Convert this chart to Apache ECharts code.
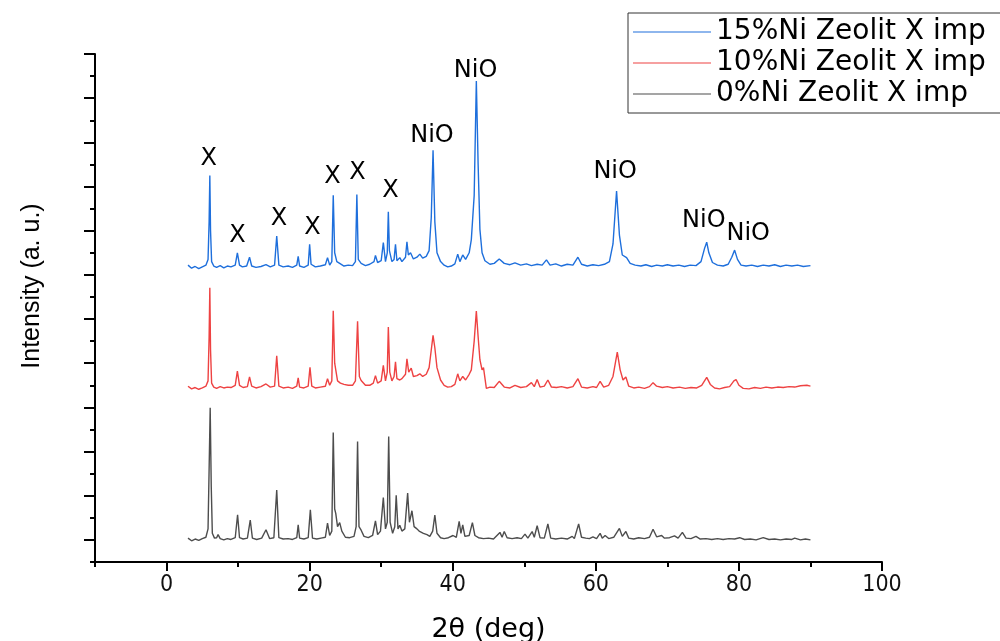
<!DOCTYPE html>
<html>
<head>
<meta charset="utf-8">
<title>XRD Ni Zeolit X</title>
<script src="https://cdn.jsdelivr.net/npm/echarts@6/dist/echarts.min.js"></script>
<style>
  html, body { margin: 0; padding: 0; background: #fff; }
  #main { width: 1000px; height: 641px; }
</style>
</head>
<body>
<div id="main"></div>
<script>
// series names (legend order)
const seriesNames = ['15%Ni Zeolit X imp', '10%Ni Zeolit X imp', '0%Ni Zeolit X imp']
const seriesColors = ['#1e6fdc', '#ee4242', '#4d4d4d']

// [2theta, intensity (offset a.u.)]
const ni15 = [
  [3.0,6.22],[3.5,6.15],[4.0,6.19],[4.5,6.14],[5.0,6.18],[5.5,6.22],[5.8,6.35],[5.95,7.2],[6.05,8.25],[6.15,7.0],
  [6.3,6.3],[6.6,6.2],[7.0,6.17],[7.5,6.21],[8.0,6.16],[8.5,6.2],[9.0,6.18],[9.6,6.22],[9.9,6.5],[10.2,6.22],
  [10.6,6.18],[11.2,6.2],[11.6,6.4],[11.9,6.2],[12.5,6.17],[13.2,6.19],[13.9,6.23],[14.5,6.18],[15.1,6.22],[15.4,6.88],
  [15.7,6.22],[16.3,6.18],[17.0,6.2],[17.6,6.17],[18.2,6.22],[18.4,6.42],[18.6,6.2],[19.2,6.17],[19.8,6.22],[20.0,6.69],
  [20.2,6.24],[20.8,6.18],[21.5,6.2],[22.2,6.23],[22.5,6.39],[22.8,6.22],[23.1,6.3],[23.3,7.8],[23.5,6.5],[23.8,6.3],
  [24.2,6.26],[24.8,6.2],[25.4,6.22],[26.0,6.21],[26.4,6.3],[26.6,7.82],[26.8,6.35],[27.2,6.26],[27.8,6.21],[28.4,6.24],
  [29.0,6.3],[29.2,6.44],[29.5,6.28],[30.0,6.32],[30.3,6.73],[30.6,6.3],[30.85,6.5],[31.0,7.43],[31.15,6.55],[31.5,6.3],
  [31.8,6.35],[32.0,6.69],[32.2,6.32],[32.6,6.39],[32.9,6.3],[33.4,6.4],[33.6,6.75],[33.8,6.45],[34.1,6.5],[34.5,6.36],
  [35.0,6.4],[35.4,6.47],[35.8,6.38],[36.3,6.42],[36.7,6.55],[37.0,7.3],[37.25,8.82],[37.5,7.2],[37.8,6.5],[38.3,6.3],
  [38.8,6.22],[39.3,6.18],[39.8,6.2],[40.3,6.25],[40.7,6.47],[41.0,6.3],[41.4,6.45],[41.8,6.35],[42.3,6.5],[42.6,6.8],
  [43.0,7.8],[43.3,10.39],[43.55,8.5],[43.8,7.03],[44.1,6.5],[44.5,6.32],[45.2,6.24],[45.8,6.26],[46.5,6.36],[47.2,6.26],
  [48.0,6.23],[48.7,6.27],[49.5,6.22],[50.3,6.25],[51.0,6.21],[51.8,6.24],[52.5,6.22],[53.1,6.34],[53.6,6.22],[54.4,6.25],
  [55.2,6.2],[56.0,6.24],[56.8,6.22],[57.5,6.4],[58.0,6.24],[58.8,6.2],[59.6,6.23],[60.4,6.21],[61.2,6.24],[61.9,6.3],
  [62.4,6.7],[62.9,7.9],[63.3,6.9],[63.7,6.45],[64.3,6.39],[64.8,6.26],[65.5,6.22],[66.3,6.2],[67.0,6.23],[67.8,6.19],
  [68.5,6.22],[69.3,6.2],[70.0,6.23],[70.8,6.2],[71.6,6.22],[72.4,6.19],[73.2,6.22],[74.0,6.21],[74.7,6.3],[75.2,6.6],
  [75.5,6.74],[75.8,6.5],[76.3,6.28],[77.0,6.22],[77.8,6.2],[78.5,6.24],[79.0,6.4],[79.4,6.56],[79.8,6.35],[80.3,6.22],
  [81.0,6.2],[81.8,6.22],[82.6,6.19],[83.4,6.22],[84.2,6.2],[85.0,6.23],[85.8,6.19],[86.6,6.22],[87.4,6.2],[88.2,6.22],
  [89.0,6.19],[90.0,6.21]
]

const ni10 = [
  [3.0,3.48],[3.5,3.42],[4.0,3.45],[4.5,3.41],[5.0,3.44],[5.5,3.48],[5.8,3.6],[5.95,4.6],[6.05,5.71],[6.15,4.3],
  [6.3,3.55],[6.6,3.46],[7.0,3.43],[7.5,3.47],[8.0,3.44],[8.5,3.46],[9.0,3.45],[9.6,3.5],[9.9,3.82],[10.2,3.5],
  [10.7,3.45],[11.3,3.47],[11.6,3.69],[11.9,3.48],[12.5,3.44],[13.2,3.47],[13.9,3.53],[14.5,3.46],[15.1,3.48],[15.4,4.17],
  [15.7,3.48],[16.3,3.44],[17.0,3.46],[17.6,3.43],[18.2,3.48],[18.4,3.67],[18.6,3.46],[19.2,3.44],[19.8,3.48],[20.05,3.91],
  [20.3,3.48],[20.8,3.44],[21.5,3.46],[22.2,3.48],[22.5,3.65],[22.8,3.5],[23.1,3.6],[23.3,5.19],[23.5,4.0],[23.65,3.97],
  [23.9,3.6],[24.3,3.55],[24.8,3.52],[25.4,3.5],[26.0,3.5],[26.4,3.6],[26.7,4.95],[26.95,3.7],[27.2,3.61],[27.8,3.5],
  [28.4,3.5],[28.9,3.55],[29.2,3.72],[29.5,3.55],[30.0,3.6],[30.3,3.95],[30.6,3.6],[30.85,3.8],[31.0,4.82],[31.2,3.8],
  [31.5,3.6],[31.8,3.7],[32.0,4.03],[32.2,3.65],[32.6,3.62],[32.9,3.65],[33.4,3.75],[33.6,4.1],[33.85,3.8],[34.2,3.89],
  [34.5,3.7],[35.0,3.72],[35.4,3.76],[35.8,3.7],[36.3,3.75],[36.7,3.9],[37.0,4.3],[37.25,4.63],[37.5,4.35],[37.8,3.9],
  [38.3,3.62],[38.8,3.5],[39.3,3.46],[39.8,3.47],[40.3,3.52],[40.7,3.76],[41.0,3.6],[41.4,3.7],[41.8,3.62],[42.3,3.75],
  [42.6,3.85],[43.0,4.5],[43.3,5.18],[43.55,4.6],[43.8,4.08],[44.1,3.85],[44.3,3.9],[44.7,3.43],[45.2,3.46],[45.8,3.45],
  [46.5,3.59],[47.2,3.46],[48.0,3.44],[48.7,3.5],[49.5,3.45],[50.3,3.47],[51.0,3.56],[51.4,3.47],[51.8,3.63],[52.2,3.46],
  [52.8,3.48],[53.3,3.62],[53.8,3.46],[54.5,3.45],[55.2,3.47],[56.0,3.44],[56.8,3.47],[57.5,3.65],[58.0,3.46],[58.8,3.44],
  [59.6,3.47],[60.1,3.45],[60.6,3.59],[61.1,3.46],[61.8,3.5],[62.4,3.7],[63.0,4.25],[63.4,3.85],[63.8,3.62],[64.2,3.69],
  [64.6,3.48],[65.3,3.44],[66.0,3.46],[66.8,3.43],[67.5,3.47],[68.0,3.56],[68.5,3.48],[69.3,3.45],[70.0,3.47],[70.8,3.44],
  [71.7,3.46],[72.5,3.43],[73.3,3.45],[74.1,3.44],[74.8,3.5],[75.5,3.68],[76.0,3.52],[76.6,3.44],[77.3,3.42],[78.0,3.45],
  [78.7,3.47],[79.3,3.6],[79.6,3.63],[80.0,3.5],[80.6,3.43],[81.4,3.42],[82.2,3.45],[83.0,3.43],[83.8,3.46],[84.6,3.44],
  [85.4,3.46],[86.2,3.45],[87.0,3.47],[87.8,3.46],[88.6,3.49],[89.5,3.5],[90.0,3.48]
]

const ni0 = [
  [3.0,0.04],[3.5,-0.02],[4.0,0.02],[4.5,-0.01],[5.0,0.03],[5.5,0.06],[5.8,0.25],[5.95,1.6],[6.1,2.99],[6.25,1.2],
  [6.4,0.15],[6.7,0.04],[7.0,0.05],[7.2,0.12],[7.5,0.03],[8.0,0.0],[8.5,0.03],[9.0,0.01],[9.6,0.05],[9.93,0.57],
  [10.2,0.05],[10.7,0.02],[11.3,0.04],[11.7,0.45],[12.0,0.04],[12.6,0.01],[13.3,0.04],[13.9,0.23],[14.4,0.03],[15.0,0.05],
  [15.4,1.13],[15.7,0.05],[16.3,0.02],[17.0,0.03],[17.6,0.01],[18.2,0.05],[18.4,0.34],[18.6,0.04],[19.2,0.02],[19.8,0.05],
  [20.1,0.68],[20.4,0.04],[21.0,0.02],[21.6,0.04],[22.2,0.06],[22.5,0.38],[22.8,0.1],[23.1,0.2],[23.3,2.43],[23.5,0.7],
  [23.65,0.6],[23.9,0.3],[24.2,0.39],[24.5,0.2],[25.0,0.06],[25.6,0.05],[26.2,0.08],[26.5,0.3],[26.7,2.23],[26.9,0.3],
  [27.2,0.22],[27.6,0.08],[28.2,0.05],[28.8,0.1],[29.2,0.43],[29.5,0.12],[29.9,0.2],[30.3,0.96],[30.6,0.25],[30.85,0.4],
  [31.05,2.34],[31.25,0.4],[31.6,0.15],[31.9,0.3],[32.1,1.01],[32.35,0.25],[32.6,0.33],[32.9,0.2],[33.3,0.25],[33.7,1.06],
  [33.95,0.4],[34.3,0.66],[34.6,0.3],[35.0,0.25],[35.3,0.2],[35.9,0.15],[36.4,0.12],[36.8,0.08],[37.2,0.2],[37.5,0.56],
  [37.8,0.15],[38.3,0.05],[38.8,0.03],[39.4,0.05],[40.05,0.1],[40.5,0.06],[40.9,0.42],[41.15,0.15],[41.4,0.34],[41.7,0.08],
  [42.3,0.1],[42.75,0.39],[43.1,0.1],[43.6,0.05],[44.3,0.03],[45.0,0.04],[45.7,0.02],[46.6,0.17],[46.9,0.06],[47.2,0.19],
  [47.6,0.05],[48.3,0.03],[49.0,0.05],[49.6,0.03],[50.1,0.13],[50.5,0.04],[51.1,0.19],[51.4,0.06],[51.8,0.32],[52.2,0.05],
  [52.8,0.04],[53.3,0.36],[53.7,0.04],[54.4,0.02],[55.2,0.04],[56.0,0.02],[56.7,0.08],[57.0,0.03],[57.6,0.36],[58.0,0.06],
  [58.6,0.04],[59.1,0.03],[59.6,0.07],[60.1,0.03],[60.6,0.15],[60.9,0.04],[61.3,0.1],[61.8,0.03],[62.5,0.06],[63.3,0.26],
  [63.7,0.08],[64.2,0.19],[64.6,0.04],[65.3,0.02],[66.0,0.05],[66.8,0.03],[67.5,0.06],[68.0,0.24],[68.5,0.07],[69.2,0.1],
  [69.6,0.04],[70.3,0.05],[71.0,0.09],[71.5,0.04],[72.1,0.17],[72.6,0.04],[73.3,0.03],[74.0,0.08],[74.6,0.02],[75.4,0.03],
  [76.2,0.01],[77.0,0.03],[77.8,0.01],[78.6,0.03],[79.4,0.02],[80.1,0.05],[80.8,0.01],[81.6,0.02],[82.4,0.0],[83.4,0.05],
  [84.2,0.01],[85.0,0.02],[85.8,0.0],[86.6,0.02],[87.4,0.01],[87.8,0.04],[88.6,0.0],[89.3,0.02],[90.0,0.0]
]

// peak labels on the 15% pattern
const annotText = ['X', 'X', 'X', 'X', 'X', 'X', 'X', 'NiO', 'NiO', 'NiO', 'NiO', 'NiO']
const annotX = [5.9, 9.9, 15.7, 20.4, 23.2, 26.7, 31.3, 37.1, 43.2, 62.7, 75.1, 81.3]
const annotY = [8.62, 6.89, 7.28, 7.07, 8.23, 8.32, 7.91, 9.16, 10.63, 8.34, 7.23, 6.92]

// tick positions
const xMajorTicks = [0, 20, 40, 60, 80, 100]
const xMinorTicks = [-10, 10, 30, 50, 70, 90]
const yMajorTicks = [0, 1, 2, 3, 4, 5, 6, 7, 8, 9, 10, 11]
const yMinorTicks = [-0.5, 0.5, 1.5, 2.5, 3.5, 4.5, 5.5, 6.5, 7.5, 8.5, 9.5, 10.5]

const narrowFont = "'Liberation Sans Narrow', 'DejaVu Sans Condensed', sans-serif"
const wideFont = "'DejaVu Sans', sans-serif"

const chart = echarts.init(document.getElementById('main'))

const lineSeries = [ni15, ni10, ni0].map((d, i) => ({
  name: seriesNames[i],
  type: 'line',
  data: d,
  showSymbol: false,
  symbol: 'none',
  xAxisIndex: 0,
  yAxisIndex: 0,
  color: seriesColors[i],
  lineStyle: { width: 1.4, color: seriesColors[i] },
  animation: false
}))

const option = {
  animation: false,
  grid: { left: 95, right: 118, top: 54, bottom: 79, outerBoundsMode: 'none', containLabel: false },
  legend: {
    data: seriesNames,
    orient: 'vertical',
    left: 628,
    top: 13,
    padding: [5, 40, 5, 5],
    itemGap: 3,
    icon: 'rect',
    itemWidth: 78,
    itemHeight: 1,
    borderColor: '#333',
    borderWidth: 1,
    textStyle: { fontSize: 28, fontFamily: wideFont, color: '#000' }
  },
  xAxis: [
    {
      type: 'value',
      min: -10,
      max: 100,
      position: 'bottom',
      name: '2θ (deg)',
      nameLocation: 'middle',
      nameGap: 54,
      nameTextStyle: { fontSize: 27, fontFamily: wideFont, color: '#000' },
      axisLine: { show: true, onZero: false, lineStyle: { color: '#000', width: 2 } },
      axisTick: { show: true, customValues: xMajorTicks, length: 9, lineStyle: { color: '#000', width: 2 } },
      axisLabel: { show: true, customValues: xMajorTicks, margin: 12, fontSize: 23, fontFamily: narrowFont, color: '#111' },
      splitLine: { show: false }
    },
    {
      type: 'value',
      min: -10,
      max: 100,
      position: 'bottom',
      axisLine: { show: false, onZero: false },
      axisTick: { show: true, customValues: xMinorTicks, length: 5, lineStyle: { color: '#000', width: 2 } },
      axisLabel: { show: false },
      splitLine: { show: false }
    }
  ],
  yAxis: [
    {
      type: 'value',
      min: -0.5,
      max: 11,
      position: 'left',
      name: 'Intensity (a. u.)',
      nameLocation: 'middle',
      nameGap: 50,
      nameTextStyle: {
        fontSize: 25,
        fontFamily: "'Liberation Sans', Arial, sans-serif",
        color: '#000',
        padding: [0, 0, 0, 44]
      },
      axisLine: { show: true, onZero: false, lineStyle: { color: '#000', width: 2 } },
      axisTick: { show: true, customValues: yMajorTicks, length: 11, lineStyle: { color: '#000', width: 2 } },
      axisLabel: { show: false },
      splitLine: { show: false }
    },
    {
      type: 'value',
      min: -0.5,
      max: 11,
      position: 'left',
      axisLine: { show: false, onZero: false },
      axisTick: { show: true, customValues: yMinorTicks, length: 5, lineStyle: { color: '#000', width: 2 } },
      axisLabel: { show: false },
      splitLine: { show: false }
    }
  ],
  series: [
    ...lineSeries,
    {
      name: 'labels',
      type: 'scatter',
      silent: true,
      symbolSize: 1,
      itemStyle: { color: 'rgba(255,255,255,0)' },
      data: annotX.map((x, i) => ({ value: [x, annotY[i]], name: annotText[i] })),
      label: {
        show: true,
        position: 'inside',
        formatter: '{b}',
        fontSize: 24,
        fontFamily: wideFont,
        color: '#000',
        opacity: 1,
        textBorderWidth: 0
      },
      animation: false
    }
  ]
}

chart.setOption(option)
</script>
</body>
</html>
